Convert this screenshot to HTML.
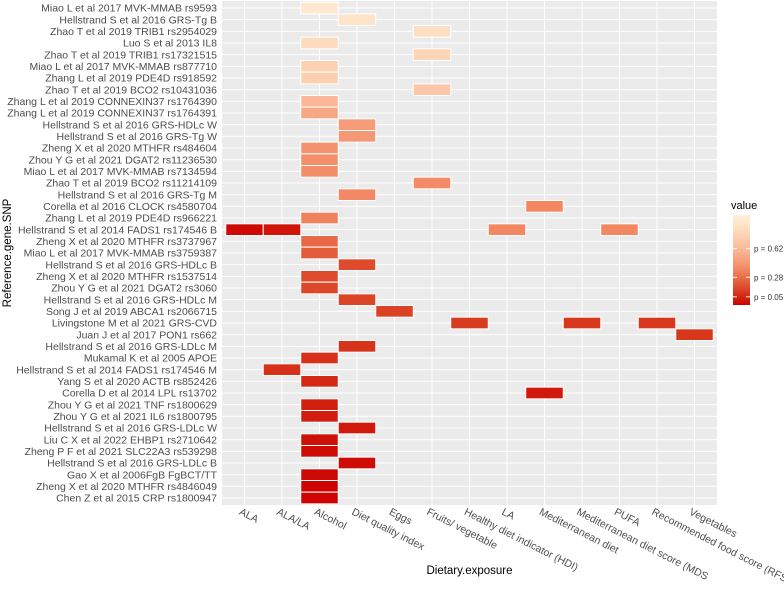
<!DOCTYPE html>
<html><head><meta charset="utf-8">
<style>
html,body{margin:0;padding:0;background:#fff;}
svg{display:block;font-family:"Liberation Sans",Arial,sans-serif;}
</style></head>
<body>
<svg id="chart" width="784" height="606" viewBox="0 0 784 606" xmlns="http://www.w3.org/2000/svg"></svg>
<script>
const categories = ["ALA","ALA/LA","Alcohol","Diet quality index","Eggs","Fruits/ vegetable","Healthy diet indicator (HDI)","LA","Mediterranean diet","Mediterranean diet score (MDS","PUFA","Recommended food score (RFS)","Vegetables"];
const rowLabels = ["Miao L et al 2017 MVK-MMAB rs9593","Hellstrand S et al 2016 GRS-Tg B","Zhao T et al 2019 TRIB1 rs2954029","Luo S et al 2013 IL8","Zhao T et al 2019 TRIB1 rs17321515","Miao L et al 2017 MVK-MMAB rs877710","Zhang L et al 2019 PDE4D rs918592","Zhao T et al 2019 BCO2 rs10431036","Zhang L et al 2019 CONNEXIN37 rs1764390","Zhang L et al 2019 CONNEXIN37 rs1764391","Hellstrand S et al 2016 GRS-HDLc W","Hellstrand S et al 2016 GRS-Tg W","Zheng X et al 2020 MTHFR  rs484604","Zhou Y G et al 2021 DGAT2 rs11236530","Miao L et al 2017 MVK-MMAB rs7134594","Zhao T et al 2019 BCO2 rs11214109","Hellstrand S et al 2016 GRS-Tg M","Corella et al 2016 CLOCK rs4580704","Zhang L et al 2019 PDE4D rs966221","Hellstrand S et al 2014 FADS1 rs174546 B","Zheng X et al 2020 MTHFR  rs3737967","Miao L et al 2017 MVK-MMAB rs3759387","Hellstrand S et al 2016 GRS-HDLc B","Zheng X et al 2020 MTHFR rs1537514","Zhou Y G et al 2021 DGAT2 rs3060","Hellstrand S et al 2016 GRS-HDLc M","Song J et al 2019 ABCA1 rs2066715","Livingstone M et al 2021 GRS-CVD","Juan J et al 2017 PON1 rs662","Hellstrand S et al 2016 GRS-LDLc M","Mukamal K et al 2005 APOE","Hellstrand S et al 2014 FADS1 rs174546 M","Yang S et al 2020 ACTB rs852426","Corella D et al 2014 LPL rs13702","Zhou Y G et al 2021 TNF rs1800629","Zhou Y G et al 2021 IL6 rs1800795","Hellstrand S et al 2016 GRS-LDLc W","Liu C X et al 2022  EHBP1 rs2710642","Zheng P F et al 2021 SLC22A3 rs539298","Hellstrand S et al 2016 GRS-LDLc B","Gao X et al 2006FgB FgBCT/TT","Zheng X et al 2020 MTHFR rs4846049","Chen Z et al 2015 CRP rs1800947"];
// tiles: row index, category index, value
const tileRows = [0,1,2,3,4,5,6,7,8,9,10,11,12,13,14,15,16,17,18,19,19,19,19,20,21,22,23,24,25,26,27,27,27,28,29,30,31,32,33,34,35,36,37,38,39,40,41,42];
const tileCols = [2,3,5,2,5,2,2,5,2,2,3,3,2,2,2,5,3,8,2,0,1,7,10,2,2,3,2,2,3,4,6,9,11,12,3,2,1,2,8,2,2,3,2,2,3,2,2,2];
const tileValues = [0.95,0.92,0.88,0.85,0.8,0.78,0.77,0.72,0.62,0.55,0.5,0.48,0.45,0.44,0.43,0.42,0.41,0.4,0.38,0.02,0.05,0.4,0.4,0.3,0.26,0.2,0.2,0.19,0.18,0.17,0.15,0.14,0.14,0.14,0.13,0.12,0.12,0.1,0.06,0.08,0.07,0.06,0.04,0.03,0.03,0.02,0.01,0.01];
const legendValues = [0.62,0.28,0.05];
const legendLabels = ["p = 0.62","p = 0.28","p = 0.05"];

const NS="http://www.w3.org/2000/svg";
const svg=document.getElementById('chart');
function mk(t,a,p){const e=document.createElementNS(NS,t);for(const k in a)e.setAttribute(k,a[k]);(p||svg).appendChild(e);return e;}
const PL=222,PR=717,PT=1,PB=505;
const colW=(PR-PL)/(categories.length+0.2);
const rowH=(PB-PT)/(rowLabels.length+0.2);
function xC(i){return PL+colW*(0.6+i);}
function yC(j){return PT+rowH*(0.6+j);}
const cStops=[[0,[204,0,0]],[0.15,[216,60,30]],[0.4,[242,135,98]],[0.62,[250,182,150]],[0.8,[252,212,182]],[1,[255,240,216]]];
function col(v){const t=Math.max(0,Math.min(1,v));
 for(let k=1;k<cStops.length;k++){if(t<=cStops[k][0]){const a=cStops[k-1],b=cStops[k];const f=(t-a[0])/(b[0]-a[0]);
  const c=a[1].map((x,m)=>Math.round(x+(b[1][m]-x)*f));return `rgb(${c[0]},${c[1]},${c[2]})`;}}
 return 'rgb(255,240,216)';}

const panel=mk('rect',{x:PL,y:PT,width:PR-PL,height:PB-PT,fill:'#ebebeb'});


const grid=mk('g',{stroke:'#ffffff','stroke-width':1});


categories.forEach((c,i)=>{mk('line',{x1:xC(i),x2:xC(i),y1:PT,y2:PB},grid);});
rowLabels.forEach((r,j)=>{mk('line',{x1:PL,x2:PR,y1:yC(j),y2:yC(j)},grid);});

const tiles=mk('g',{});


tileValues.forEach((v,k)=>{
 const r=mk('rect',{x:xC(tileCols[k])-colW/2,y:yC(tileRows[k])-rowH/2,width:colW,height:rowH,fill:col(v),stroke:'#ffffff','stroke-width':1},tiles);
 
 
});

const yl=mk('g',{'font-size':'10.5','fill':'#4d4d4d','text-anchor':'end'});


rowLabels.forEach((r,j)=>{const t=mk('text',{x:217,y:yC(j)+3.7},yl);t.textContent=r;
 
 });

const xl=mk('g',{'font-size':'10.5','fill':'#4d4d4d'});


categories.forEach((c,i)=>{const x=xC(i)-6,y=514;const t=mk('text',{x:x,y:y,transform:`rotate(27 ${x} ${y})`,textLength:'',lengthAdjust:'spacingAndGlyphs'},xl);t.textContent=c;
 t.removeAttribute('textLength');
 
 });

const xt=mk('text',{x:(PL+PR)/2,y:574,'font-size':'11.5','fill':'#000','text-anchor':'middle'});xt.textContent='Dietary.exposure';


const yt=mk('text',{x:11,y:253,'font-size':'11.5','fill':'#000','text-anchor':'middle',transform:'rotate(-90 11 253)'});yt.textContent='Reference.gene.SNP';



// legend
const lg=mk('g',{});


const lt=mk('text',{x:731,y:209,'font-size':'11','fill':'#000'},lg);lt.textContent='value';


const defs=mk('defs',{});
const gr=mk('linearGradient',{id:'lgrad',x1:0,y1:1,x2:0,y2:0},defs);
for(let s=0;s<=10;s++){mk('stop',{offset:s/10,'stop-color':col(s/10*1.02)},gr);}
const LT=215,LB=305,L0=301,L1=216.5;
function ly(v){return L0-(L0-L1)*v;}
const bar=mk('rect',{x:733,y:LT,width:17,height:LB-LT,fill:'url(#lgrad)'},lg);


legendValues.forEach((v,k)=>{const y=ly(v);
 mk('line',{x1:733,x2:737,y1:y,y2:y,stroke:'#fff','stroke-width':1},lg);
 mk('line',{x1:746,x2:750,y1:y,y2:y,stroke:'#fff','stroke-width':1},lg);
 const t=mk('text',{x:754,y:y+3,'font-size':'8','fill':'#333'},lg);t.textContent=legendLabels[k];
 
 });
</script>
</body></html>
